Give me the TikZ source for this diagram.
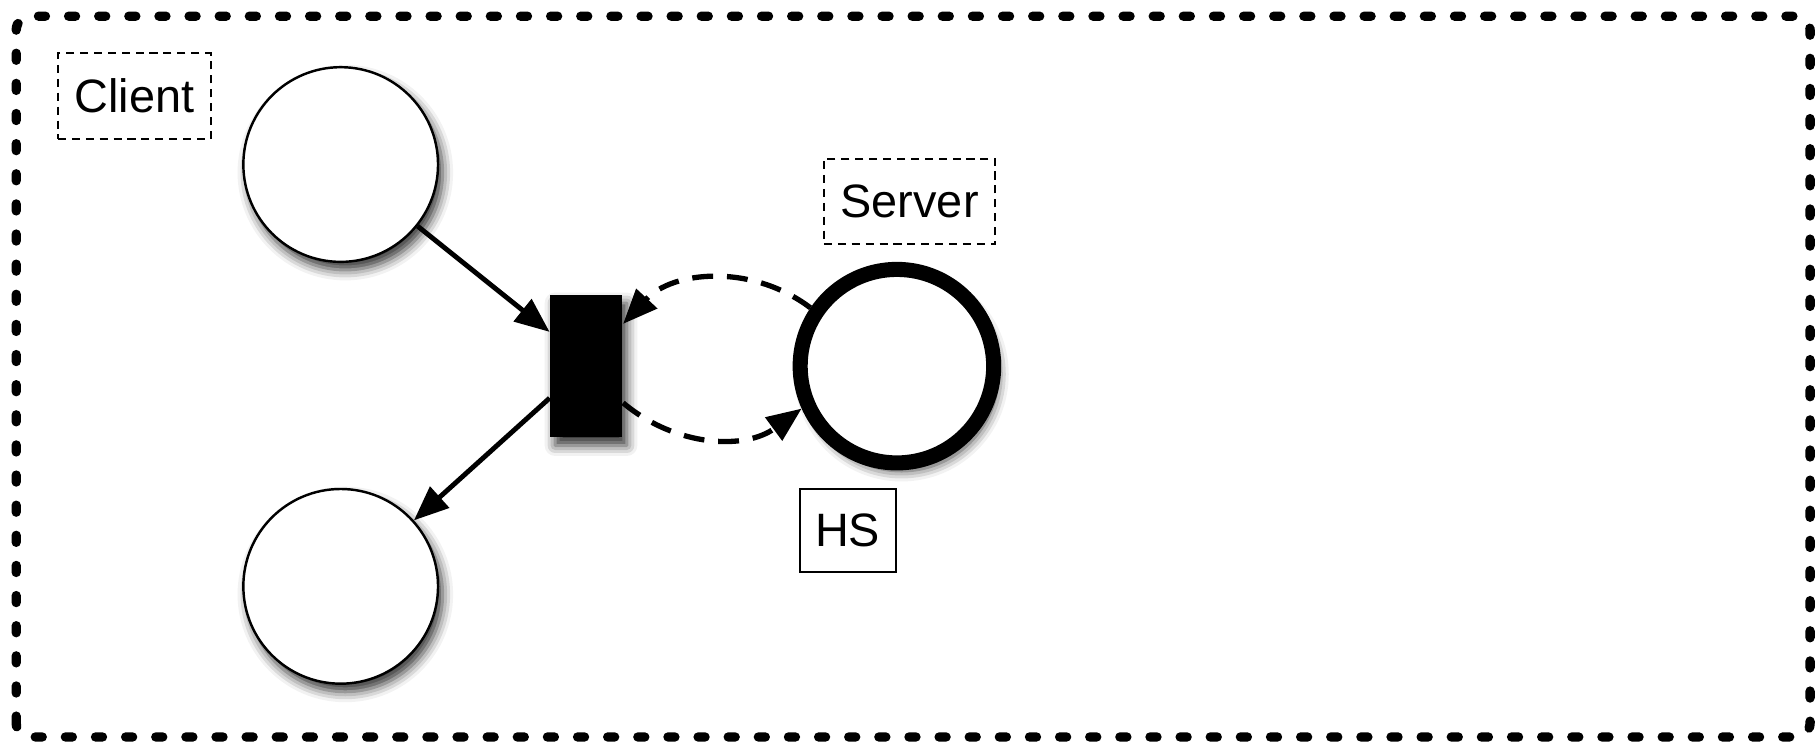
\documentclass[tikz,border=0pt]{standalone}
\usepackage{fontspec}
\setmainfont{Liberation Sans}
\usetikzlibrary{arrows.meta, positioning, shadows.blur}

\begin{document}
\begin{tikzpicture}[
    place/.style={circle, draw, line width=0.6pt, fill=white, minimum size=1.68cm, inner sep=0pt,
        blur shadow={shadow xshift=0.04cm, shadow yshift=-0.07cm, shadow blur radius=0.09cm, shadow opacity=80}},
    server/.style={place, line width=0.13cm, minimum size=1.67cm},
    transbox/.style={rectangle, fill=black, minimum width=0.62cm, minimum height=1.23cm, inner sep=0pt,
        blur shadow={shadow xshift=0.04cm, shadow yshift=-0.07cm, shadow blur radius=0.09cm, shadow opacity=80}},
    tag/.style={draw, line width=0.5pt, inner sep=0pt, minimum height=0.74cm,
        font=\fontsize{11.5}{13}\selectfont},
    dashtag/.style={tag, dash pattern=on 0.07cm off 0.05cm},
    flow/.style={line width=1.2pt, -{Triangle[length=0.3cm, width=0.24cm]}},
    loopflow/.style={flow, line width=1.3pt, dash pattern=on 0.18cm off 0.12cm}
]

        % ==========================================
        % CORNICE
        % ==========================================
        \useasboundingbox (0,0) rectangle (15.68,6.48);
        \draw[line width=2.3pt, line cap=round, dash pattern=on 0.06cm off 0.2cm,
              rounded corners=0.12cm] (0.14,0.12) rectangle (15.62,6.34);

        % ==========================================
        % POSTI E TRANSIZIONE
        % ==========================================
        \node[place] (pClient) at (2.94, 5.06) {};
        \node[place] (pReply) at (2.94, 1.42) {};
        \node[transbox] (tCall) at (5.06, 3.32) {};
        \node[server] (pServer) at (7.74, 3.32) {};

        % Etichette
        \node[dashtag, minimum width=1.32cm] (lClient) at (1.16, 5.65) {Client};
        \node[dashtag, minimum width=1.48cm] (lServer) at (7.85, 4.74) {Server};
        \node[tag, minimum width=0.83cm, minimum height=0.72cm] (lHS) at (7.315, 1.90) {HS};

        % ==========================================
        % ARCHI
        % ==========================================
        \draw[flow] (pClient) -- (tCall.137);
        \draw[flow] (tCall.221) -- (pReply);
        \draw[loopflow] (pServer.146) to[bend right=42] (tCall.49);
        \draw[loopflow] (tCall.315) to[bend right=38] (pServer.204);

\end{tikzpicture}
\end{document}
